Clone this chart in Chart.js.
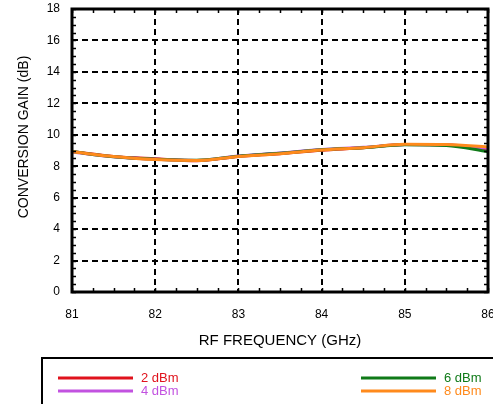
<!DOCTYPE html>
<html>
<head>
<meta charset="utf-8">
<script src="https://cdn.jsdelivr.net/npm/chart.js@4/dist/chart.umd.min.js"></script>
<style>
  html, body { margin: 0; padding: 0; background: #fff; }
  #wrap { width: 493px; height: 404px; position: relative; }
</style>
</head>
<body>
<div id="wrap"><canvas id="c" width="493" height="404"></canvas></div>
<script>
// Data
const freqGHz = [81, 81.5, 82, 82.5, 83, 83.5, 84, 84.5, 85, 85.5, 86];
const gain2dBm = [8.93, 8.62, 8.47, 8.35, 8.62, 8.80, 9.02, 9.17, 9.38, 9.36, 9.10];
const gain4dBm = [8.90, 8.60, 8.44, 8.37, 8.65, 8.84, 9.06, 9.20, 9.38, 9.35, 9.15];
const gain6dBm = [8.93, 8.60, 8.45, 8.38, 8.64, 8.82, 9.04, 9.18, 9.36, 9.32, 8.92];
const gain8dBm = [8.92, 8.62, 8.42, 8.36, 8.62, 8.80, 9.03, 9.18, 9.40, 9.38, 9.22];
const seriesLabels = ['2 dBm', '4 dBm', '6 dBm', '8 dBm'];
const seriesColors = ['#e0121c', '#c252e0', '#0f7a18', '#ff8a1c'];
const xTicks = [81, 82, 83, 84, 85, 86];
const yTicks = [0, 2, 4, 6, 8, 10, 12, 14, 16, 18];
const yTitle = 'CONVERSION GAIN (dB)';
const xTitle = 'RF FREQUENCY (GHz)';

const FONT = '"Liberation Sans", Arial, Helvetica, sans-serif';
const allSeries = [gain2dBm, gain4dBm, gain6dBm, gain8dBm];
const drawOrder = [3, 2, 1, 0];

const datasets = allSeries.map((s, i) => ({
  label: seriesLabels[i],
  data: freqGHz.map((f, k) => ({ x: f, y: s[k] })),
  borderColor: seriesColors[i],
  backgroundColor: seriesColors[i],
  borderWidth: 3,
  pointRadius: 0,
  tension: 0.4,
  cubicInterpolationMode: 'monotone',
  fill: false,
  order: drawOrder[i]
}));

const gridPlugin = {
  id: 'dashgrid',
  beforeDatasetsDraw(chart) {
    const { ctx, chartArea: a, scales } = chart;
    ctx.save();
    ctx.strokeStyle = '#000';
    ctx.lineWidth = 2;
    ctx.setLineDash([6, 4]);
    ctx.beginPath();
    xTicks.forEach(v => {
      const px = Math.round(scales.x.getPixelForValue(v));
      ctx.moveTo(px, a.top); ctx.lineTo(px, a.bottom);
    });
    yTicks.forEach(v => {
      const py = Math.round(scales.y.getPixelForValue(v));
      ctx.moveTo(a.left, py); ctx.lineTo(a.right, py);
    });
    ctx.stroke();
    ctx.restore();
  }
};

const framePlugin = {
  id: 'frame',
  afterDraw(chart) {
    const { ctx, chartArea: a, scales } = chart;
    const xs = scales.x, ys = scales.y;
    ctx.save();
    ctx.strokeStyle = '#000';
    // minor ticks
    ctx.lineWidth = 1.5;
    ctx.beginPath();
    for (let v = 81; v <= 86.001; v += 0.25) {
      const px = Math.round(xs.getPixelForValue(v)) + 0.5;
      ctx.moveTo(px, a.bottom); ctx.lineTo(px, a.bottom - 4);
      ctx.moveTo(px, a.top); ctx.lineTo(px, a.top + 4);
    }
    for (let v = 0; v <= 18.001; v += 0.5) {
      const py = Math.round(ys.getPixelForValue(v)) + 0.5;
      ctx.moveTo(a.left, py); ctx.lineTo(a.left + 4, py);
      ctx.moveTo(a.right, py); ctx.lineTo(a.right - 4, py);
    }
    ctx.stroke();
    // frame
    ctx.lineWidth = 3;
    ctx.strokeRect(a.left, a.top, a.right - a.left, a.bottom - a.top);
    ctx.restore();

    // y axis title
    ctx.save();
    ctx.fillStyle = '#000';
    ctx.font = '14px ' + FONT;
    ctx.textAlign = 'center';
    ctx.textBaseline = 'middle';
    ctx.translate(24, 137);
    ctx.rotate(-Math.PI / 2);
    ctx.fillText(yTitle, 0, 0);
    ctx.restore();

    // legend box
    ctx.save();
    ctx.strokeStyle = '#000';
    ctx.lineWidth = 2;
    ctx.strokeRect(42, 358, 470, 60);
    ctx.font = '13px ' + FONT;
    ctx.textBaseline = 'middle';
    const pos = [
      { x: 58, y: 378 }, { x: 58, y: 391 },
      { x: 361, y: 378 }, { x: 361, y: 391 }
    ];
    chart.data.datasets.forEach((d, i) => {
      const p = pos[i];
      ctx.strokeStyle = d.borderColor;
      ctx.lineWidth = 3;
      ctx.beginPath();
      ctx.moveTo(p.x, p.y); ctx.lineTo(p.x + 75, p.y);
      ctx.stroke();
      ctx.fillStyle = d.borderColor;
      ctx.textAlign = 'left';
      ctx.fillText(d.label, p.x + 83, p.y);
    });
    ctx.restore();
  }
};

new Chart(document.getElementById('c'), {
  type: 'line',
  data: { datasets },
  options: {
    responsive: false,
    animation: false,
    devicePixelRatio: 1,
    layout: { padding: { left: 0, right: 5, top: 9, bottom: 52 } },
    plugins: { legend: { display: false }, tooltip: { enabled: false } },
    scales: {
      x: {
        type: 'linear',
        min: 81, max: 86,
        afterBuildTicks: s => { s.ticks = xTicks.map(v => ({ value: v })); },
        afterFit: s => { s.height = 60; s.paddingLeft = 0; s.paddingRight = 0; },
        ticks: {
          color: '#000',
          font: { family: FONT, size: 12 },
          padding: 15,
          maxRotation: 0,
          callback: v => String(v)
        },
        grid: { display: false, drawTicks: false },
        border: { display: false },
        title: {
          display: true, text: xTitle, color: '#000',
          font: { family: FONT, size: 15 }, padding: { top: 0, bottom: 2 }
        }
      },
      y: {
        min: 0, max: 18,
        afterBuildTicks: s => { s.ticks = yTicks.map(v => ({ value: v })); },
        afterFit: s => { s.width = 72; s.paddingTop = 0; s.paddingBottom = 0; },
        ticks: {
          color: '#000',
          font: { family: FONT, size: 12 },
          padding: 12,
          callback: v => String(v)
        },
        grid: { display: false, drawTicks: false },
        border: { display: false },
        title: { display: false }
      }
    }
  },
  plugins: [gridPlugin, framePlugin]
});
</script>
</body>
</html>
